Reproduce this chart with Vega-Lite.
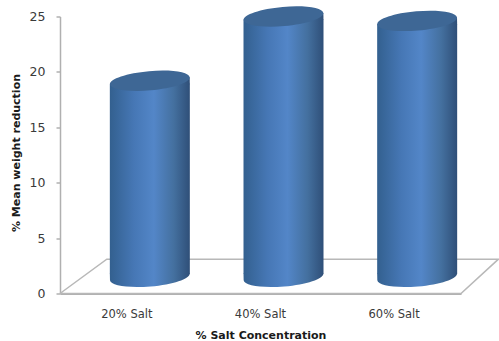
{
  "$schema": "https://vega.github.io/schema/vega-lite/v6.json",
  "width": 401,
  "height": 277,
  "autosize": "none",
  "padding": {"left": 60, "top": 16.5, "right": 38, "bottom": 47.5},
  "background": "white",
  "config": {
    "view": {"stroke": null},
    "axis": {"labelFont": "DejaVu Sans", "titleFont": "DejaVu Sans", "labelColor": "#3a3a3a", "titleColor": "#1a1a1a", "grid": false}
  },
  "datasets": {
    "salt": [
      {"salt": "20% Salt", "reduction": 19.2},
      {"salt": "40% Salt", "reduction": 25.0},
      {"salt": "60% Salt", "reduction": 24.6}
    ],
    "floor": [
      {"along": 0, "depth": 0, "step": 0},
      {"along": 3, "depth": 0, "step": 1},
      {"along": 3.28, "depth": 3.1, "step": 2},
      {"along": 0.35, "depth": 3.1, "step": 3},
      {"along": 0, "depth": 0, "step": 4}
    ]
  },
  "layer": [
    {
      "data": {"name": "floor"},
      "mark": {"type": "line", "stroke": "#b8b8b8", "strokeWidth": 1.5, "clip": false},
      "encoding": {
        "x": {"field": "along", "type": "quantitative", "scale": {"domain": [0, 3], "nice": false, "zero": false}, "axis": null},
        "y": {
          "field": "depth", "type": "quantitative",
          "scale": {"domain": [0, 25], "nice": false},
          "axis": {
            "title": "% Mean weight reduction", "titleFontSize": 11, "titleFontWeight": "bold", "titleX": -39, "titleY": 136,
            "values": [0, 5, 10, 15, 20, 25], "labelFontSize": 12.5, "labelPadding": 11,
            "domainColor": "#b0b0b0", "domainWidth": 1.5, "tickColor": "#b0b0b0", "tickSize": 4, "tickWidth": 1.5
          }
        },
        "order": {"field": "step", "type": "ordinal"}
      }
    },
    {
      "data": {"name": "salt"},
      "mark": {
        "type": "bar", "size": 80, "xOffset": 23, "yOffset": 3,
        "fill": {"x1": 0, "x2": 1, "y1": 0, "y2": 0, "gradient": "linear", "stops": [
          {"offset": 0, "color": "#33608f"}, {"offset": 0.3, "color": "#4677b5"}, {"offset": 0.55, "color": "#5386c8"}, {"offset": 0.8, "color": "#44709f"}, {"offset": 1, "color": "#2f4f78"}
        ]}
      },
      "encoding": {
        "x": {
          "field": "salt", "type": "nominal",
          "scale": {"paddingInner": 0, "paddingOuter": 0},
          "axis": {
            "title": "% Salt Concentration", "titleFontSize": 11, "titleFontWeight": "bold", "titlePadding": 9,
            "labelAngle": 0, "labelFontSize": 11.5, "labelPadding": 15, "ticks": false,
            "domainColor": "#b0b0b0", "domainWidth": 2
          }
        },
        "y": {"field": "reduction", "type": "quantitative"},
        "y2": {"datum": 1.75}
      }
    },
    {
      "data": {"name": "salt"},
      "mark": {
        "type": "point", "filled": true, "opacity": 1, "xOffset": 23, "size": 6400, "strokeWidth": 0,
        "shape": "M.9962,-.0872C1.0077,.0449,.5711,.1909,.0209,.2391C-.5293,.2873,-.9847,.2193,-.9962,.0872L-1,-.0872L1,-.0872Z",
        "fill": {"x1": 0, "x2": 1, "y1": 0, "y2": 0, "gradient": "linear", "stops": [
          {"offset": 0, "color": "#33608f"}, {"offset": 0.3, "color": "#4677b5"}, {"offset": 0.55, "color": "#5386c8"}, {"offset": 0.8, "color": "#44709f"}, {"offset": 1, "color": "#2f4f78"}
        ]}
      },
      "encoding": {
        "x": {"field": "salt", "type": "nominal", "scale": {"paddingInner": 0, "paddingOuter": 0}, "axis": null},
        "y": {"datum": 1.5}
      }
    },
    {
      "data": {"name": "salt"},
      "mark": {
        "type": "point", "filled": true, "opacity": 1, "xOffset": 23, "size": 6400, "strokeWidth": 0,
        "shape": "M.9962,-.0872L1,.0872L-1,.0872Z",
        "fill": {"x1": 0, "x2": 1, "y1": 0, "y2": 0, "gradient": "linear", "stops": [
          {"offset": 0, "color": "#33608f"}, {"offset": 0.3, "color": "#4677b5"}, {"offset": 0.55, "color": "#5386c8"}, {"offset": 0.8, "color": "#44709f"}, {"offset": 1, "color": "#2f4f78"}
        ]}
      },
      "encoding": {
        "x": {"field": "salt", "type": "nominal", "scale": {"paddingInner": 0, "paddingOuter": 0}, "axis": null},
        "y": {"field": "reduction", "type": "quantitative"}
      }
    },
    {
      "data": {"name": "salt"},
      "mark": {
        "type": "point", "filled": true, "opacity": 1, "xOffset": 23, "size": 6400, "strokeWidth": 0, "fill": "#3e6795",
        "shape": "M.9962,-.0872C1.0077,.0449,.5711,.1909,.0209,.2391C-.5293,.2873,-.9847,.2193,-.9962,.0872C-1.0077,-.0449,-.5711,-.1909,-.0209,-.2391C.5293,-.2873,.9847,-.2193,.9962,-.0872Z"
      },
      "encoding": {
        "x": {"field": "salt", "type": "nominal", "scale": {"paddingInner": 0, "paddingOuter": 0}, "axis": null},
        "y": {"field": "reduction", "type": "quantitative"}
      }
    }
  ],
  "resolve": {"scale": {"x": "independent"}}
}
